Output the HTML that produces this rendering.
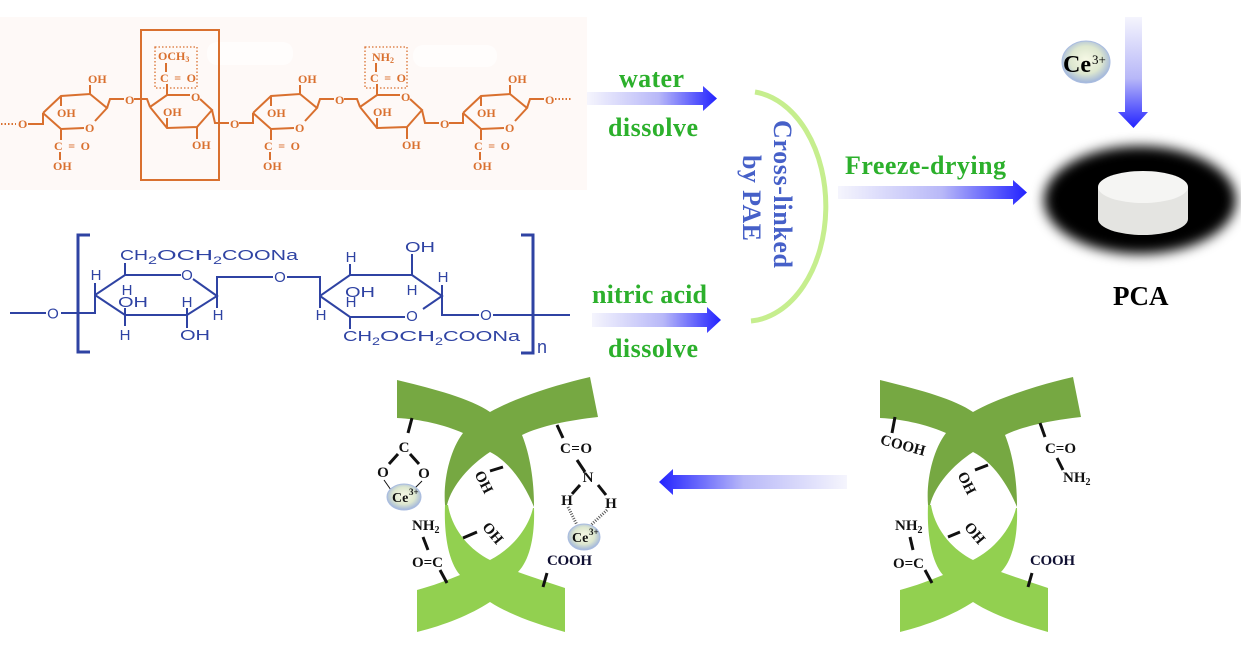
<!DOCTYPE html>
<html><head><meta charset="utf-8"><style>
html,body{margin:0;padding:0;background:#fff;}
svg{display:block;}
.o{font:bold 12px "Liberation Serif",serif;fill:#d9702f;}
.b{font:15px "Liberation Sans",sans-serif;fill:#2f43a3;}
.g{font:bold 26px "Liberation Serif",serif;fill:#2cb02c;}
.k{font:bold 15px "Liberation Serif",serif;fill:#111;}
</style></head><body>
<svg width="1241" height="645" viewBox="0 0 1241 645" xmlns="http://www.w3.org/2000/svg">
<defs>
<linearGradient id="ga1" gradientUnits="userSpaceOnUse" x1="587" y1="0" x2="717" y2="0"><stop offset="0" stop-color="#f5f5fd"/><stop offset="0.55" stop-color="#b8b8f8"/><stop offset="1" stop-color="#2222ff"/></linearGradient>
<linearGradient id="ga2" gradientUnits="userSpaceOnUse" x1="592" y1="0" x2="721" y2="0"><stop offset="0" stop-color="#f5f5fd"/><stop offset="0.55" stop-color="#b8b8f8"/><stop offset="1" stop-color="#2222ff"/></linearGradient>
<linearGradient id="ga3" gradientUnits="userSpaceOnUse" x1="838" y1="0" x2="1027" y2="0"><stop offset="0" stop-color="#f5f5fd"/><stop offset="0.55" stop-color="#b8b8f8"/><stop offset="1" stop-color="#2222ff"/></linearGradient>
<linearGradient id="ga4" gradientUnits="userSpaceOnUse" x1="0" y1="17" x2="0" y2="128"><stop offset="0" stop-color="#f5f5fd"/><stop offset="0.55" stop-color="#b8b8f8"/><stop offset="1" stop-color="#2222ff"/></linearGradient>
<linearGradient id="ga5" gradientUnits="userSpaceOnUse" x1="847" y1="0" x2="659" y2="0"><stop offset="0" stop-color="#f5f5fd"/><stop offset="0.55" stop-color="#b8b8f8"/><stop offset="1" stop-color="#2222ff"/></linearGradient>
<radialGradient id="ce" cx="0.5" cy="0.45" r="0.55"><stop offset="0" stop-color="#f7f9e6"/><stop offset="0.6" stop-color="#dde7cf"/><stop offset="1" stop-color="#9fb4dc"/></radialGradient>
<filter id="blur" x="-30%" y="-40%" width="160%" height="180%"><feGaussianBlur stdDeviation="6"/></filter>
</defs>

<!-- Orange structure -->
<rect x="0" y="17" width="587" height="173" fill="#fef9f7"/>
<rect x="207" y="42" width="86" height="23" rx="10" fill="#fffdfc"/>
<rect x="413" y="45" width="84" height="22" rx="10" fill="#fffdfc"/>
<g stroke="#d9702f" stroke-width="2" fill="none">
 <rect x="141" y="30" width="78" height="150"/>
 <rect x="155" y="47" width="42" height="41" stroke-width="1.3" stroke-dasharray="1.5 2"/>
 <rect x="365" y="47" width="42" height="41" stroke-width="1.3" stroke-dasharray="1.5 2"/>
 <path d="M1,124 L16,124 M555,99 L572,99" stroke-dasharray="1.5 2"/>
 <path d="M43,113 L43,124 L28,124 M134,99 L147,99 L150,107 M239,123 L253,123 L253,113 M344,99 L357,99 L360,107 M449,123 L463,123 L463,113"/>
 <g><path d="M43,113 L61,96 L90,94 L107,108 L95,121 M84,128 L61,129 L43,113 M90,94 L90,85 M61,96 L61,106 M61,129 L61,140 M60,152 L60,160 M107,108 L110,99 L124,99"/></g>
 <g transform="translate(210,0)"><path d="M43,113 L61,96 L90,94 L107,108 L95,121 M84,128 L61,129 L43,113 M90,94 L90,85 M61,96 L61,106 M61,129 L61,140 M60,152 L60,160 M107,108 L110,99 L124,99"/></g>
 <g transform="translate(420,0)"><path d="M43,113 L61,96 L90,94 L107,108 L95,121 M84,128 L61,129 L43,113 M90,94 L90,85 M61,96 L61,106 M61,129 L61,140 M60,152 L60,160 M107,108 L110,99 L124,99"/></g>
 <path d="M150,107 L167,95 L190,95 M200,99 L212,110 L197,127 L167,128 L150,107 M167,95 L167,84 M166,63 L166,72 M167,128 L167,118 M197,127 L197,139 M212,110 L215,123 L229,123"/>
 <g transform="translate(210,0)"><path d="M150,107 L167,95 L190,95 M200,99 L212,110 L197,127 L167,128 L150,107 M167,95 L167,84 M166,63 L166,72 M167,128 L167,118 M197,127 L197,139 M212,110 L215,123 L229,123"/></g>
</g>
<g class="o">
 <text x="18" y="128">O</text>
 <g><text x="88" y="83">OH</text><text x="57" y="117">OH</text><text x="85" y="132">O</text><text x="54" y="150" textLength="36">C=O</text><text x="53" y="170">OH</text><text x="125" y="104">O</text></g>
 <g transform="translate(210,0)"><text x="88" y="83">OH</text><text x="57" y="117">OH</text><text x="85" y="132">O</text><text x="54" y="150" textLength="36">C=O</text><text x="53" y="170">OH</text><text x="125" y="104">O</text></g>
 <g transform="translate(420,0)"><text x="88" y="83">OH</text><text x="57" y="117">OH</text><text x="85" y="132">O</text><text x="54" y="150" textLength="36">C=O</text><text x="53" y="170">OH</text><text x="125" y="104">O</text></g>
 <g><text x="191" y="101">O</text><text x="160" y="82" textLength="36">C=O</text><text x="158" y="60">OCH<tspan font-size="8" dy="2">3</tspan></text><text x="163" y="116">OH</text><text x="192" y="149">OH</text><text x="230" y="128">O</text></g>
 <g transform="translate(210,0)"><text x="191" y="101">O</text><text x="160" y="82" textLength="36">C=O</text><text x="162" y="61">NH<tspan font-size="8" dy="2">2</tspan></text><text x="163" y="116">OH</text><text x="192" y="149">OH</text><text x="230" y="128">O</text></g>
</g>

<!-- Blue CMC structure -->
<g stroke="#2f43a3" stroke-width="2" fill="none">
 <path d="M10,313 L46,313 M61,313 L95,313 L95,295 L125,275 L181,275 M193,279 L217,296 L187,315 L125,315 L95,295 M217,296 L217,277 L273,277 M287,277 L320,277 L320,296 L350,275 L412,275 L442,296 L423,309 M405,317 L350,317 L320,296 M442,296 L442,315 L479,315 M493,315 L570,315"/>
 <path d="M125,275 L125,263 M95,295 L95,283 M125,315 L125,326 M125,315 L125,308 M187,315 L187,328 M187,315 L187,308 M217,296 L217,308 M350,275 L350,264 M412,275 L412,254 M350,317 L350,329 M320,296 L320,308 M442,296 L442,285"/>
 <path d="M90,235 L78,235 L78,352 L90,352 M521,235 L533,235 L533,353 L521,353" stroke-width="3"/>
</g>
<g class="b">
 <text x="120" y="260" textLength="28" lengthAdjust="spacingAndGlyphs">CH</text><text x="148" y="264" font-size="11" textLength="9" lengthAdjust="spacingAndGlyphs">2</text><text x="157" y="260" textLength="56" lengthAdjust="spacingAndGlyphs">OCH</text><text x="213" y="264" font-size="11" textLength="9" lengthAdjust="spacingAndGlyphs">2</text><text x="222" y="260" textLength="76" lengthAdjust="spacingAndGlyphs">COONa</text>
 <text x="343" y="341" textLength="29" lengthAdjust="spacingAndGlyphs">CH</text><text x="372" y="345" font-size="11" textLength="8" lengthAdjust="spacingAndGlyphs">2</text><text x="380" y="341" textLength="55" lengthAdjust="spacingAndGlyphs">OCH</text><text x="435" y="345" font-size="11" textLength="8" lengthAdjust="spacingAndGlyphs">2</text><text x="443" y="341" textLength="77" lengthAdjust="spacingAndGlyphs">COONa</text>
 <g text-anchor="middle">
  <text x="53" y="318.5">O</text><text x="187" y="280">O</text><text x="280" y="282">O</text><text x="412" y="321">O</text><text x="486" y="320">O</text>
  <text x="96" y="280">H</text><text x="127" y="295">H</text><text x="125" y="340">H</text><text x="187" y="307">H</text><text x="218" y="320">H</text>
  <text x="321" y="320">H</text><text x="351" y="262">H</text><text x="412" y="295">H</text><text x="443" y="282">H</text><text x="351" y="307">H</text>
 </g>
 <text x="118" y="307" textLength="30" lengthAdjust="spacingAndGlyphs">OH</text>
 <text x="180" y="340" textLength="30" lengthAdjust="spacingAndGlyphs">OH</text>
 <text x="345" y="297" textLength="30" lengthAdjust="spacingAndGlyphs">OH</text>
 <text x="405" y="252" textLength="30" lengthAdjust="spacingAndGlyphs">OH</text>
 <text x="537" y="353" font-size="18">n</text>
</g>

<!-- Arrows -->
<path d="M587,92 L703,92 L703,86 L717,98.5 L703,111 L703,105 L587,105 Z" fill="url(#ga1)"/>
<path d="M592,313 L707,313 L707,307 L721,320 L707,333 L707,327 L592,327 Z" fill="url(#ga2)"/>
<path d="M838,186 L1013,186 L1013,180 L1027,192.5 L1013,205 L1013,199 L838,199 Z" fill="url(#ga3)"/>
<path d="M1125,17 L1142,17 L1142,112 L1148,112 L1133.5,128 L1118,112 L1125,112 Z" fill="url(#ga4)"/>
<path d="M847,475 L673,475 L673,469 L659,482 L673,495 L673,489 L847,489 Z" fill="url(#ga5)"/>

<!-- Labels -->
<text class="g" x="619" y="87" textLength="65">water</text>
<text class="g" x="608" y="136" textLength="90">dissolve</text>
<text class="g" x="592" y="303" textLength="115">nitric acid</text>
<text class="g" x="608" y="357" textLength="90">dissolve</text>
<text class="g" x="845" y="174" textLength="161">Freeze-drying</text>

<path d="M755,92 A80,115 0 0 1 751,321" fill="none" stroke="#c6ee8e" stroke-width="5"/>
<text transform="translate(774,120) rotate(90)" style="font:bold 26px 'Liberation Serif',serif;fill:#4660c8" textLength="148">Cross-linked</text>
<text transform="translate(743,155) rotate(90)" style="font:bold 26px 'Liberation Serif',serif;fill:#4660c8" textLength="86">by PAE</text>

<!-- Ce3+ top -->
<ellipse cx="1086" cy="62" rx="24" ry="21" fill="url(#ce)" stroke="#a9bce0" stroke-width="1"/>
<text x="1063" y="72" style="font:bold 24px 'Liberation Serif',serif;fill:#000">Ce</text>
<text x="1092" y="64" style="font:13px 'Liberation Serif',serif;fill:#000">3+</text>

<!-- PCA photo -->
<ellipse cx="1140" cy="200" rx="96" ry="54" fill="#000" filter="url(#blur)"/>
<path d="M1098,187 L1098,219 A45,16 0 0 0 1188,219 L1188,187 Z" fill="#e4e4e1"/>
<ellipse cx="1143" cy="187" rx="45" ry="16" fill="#f5f5f3"/>
<text x="1113" y="305" style="font:bold 27px 'Liberation Serif',serif;fill:#000">PCA</text>

<!-- Helix left -->
<g>
<path d="M397,380 C430,388 470,398 490,412 C515,398 555,385 590,377 L598,417 C570,420 540,426 522,435 C530,455 534,480 534,507 C525,485 510,462 490,452 C470,465 452,485 447,505 L445,505 C443,480 450,450 463,433 C445,425 420,419 397,418 Z" fill="#76a842"/>
<path d="M417,590 C432,586 448,580 460,575 C447,560 444,530 445,505 L448,505 C452,530 470,550 490,560 C510,550 528,530 533,508 L534,508 C535,535 530,560 518,572 C535,578 550,583 565,588 L565,632 C540,625 510,615 490,602 C470,615 445,625 417,632 Z" fill="#92d050"/>
</g>
<g transform="translate(483,0)">
<path d="M397,380 C430,388 470,398 490,412 C515,398 555,385 590,377 L598,417 C570,420 540,426 522,435 C530,455 534,480 534,507 C525,485 510,462 490,452 C470,465 452,485 447,505 L445,505 C443,480 450,450 463,433 C445,425 420,419 397,418 Z" fill="#76a842"/>
<path d="M417,590 C432,586 448,580 460,575 C447,560 444,530 445,505 L448,505 C452,530 470,550 490,560 C510,550 528,530 533,508 L534,508 C535,535 530,560 518,572 C535,578 550,583 565,588 L565,632 C540,625 510,615 490,602 C470,615 445,625 417,632 Z" fill="#92d050"/>
</g>

<!-- Left helix labels -->
<g stroke="#111" stroke-width="3" fill="none">
 <path d="M412,418 L408,433 M398,454 L389,464 M410,454 L419,464 M423,537 L428,550 M440,570 L447,583 M503,467 L490,471 M463,538 L477,532 M557,425 L563,438 M577,460 L585,472 M580,485 L572,494 M598,485 L606,495 M547,573 L543,587"/>
 <path d="M384,480 L391,490 M422,481 L414,489" stroke-width="1"/>
 <path d="M568,507 L577,525 M607,510 L591,525" stroke="#555" stroke-dasharray="1 1.5"/>
</g>
<ellipse cx="404" cy="497" rx="17" ry="13" fill="url(#ce)" stroke="#a9bce0"/>
<ellipse cx="584" cy="537" rx="16" ry="13" fill="url(#ce)" stroke="#a9bce0"/>
<g class="k">
 <g text-anchor="middle">
  <text x="404" y="452">C</text><text x="383" y="477">O</text><text x="424" y="478">O</text>
  <text x="588" y="482">N</text><text x="567" y="505">H</text><text x="611" y="508">H</text>
 </g>
 <text x="392" y="502" font-size="14">Ce</text><text x="409" y="495" font-size="9">3+</text>
 <text x="572" y="542" font-size="14">Ce</text><text x="589" y="535" font-size="9">3+</text>
 <text x="412" y="530">NH<tspan font-size="10" dy="3">2</tspan></text>
 <text x="412" y="567" textLength="31">O=C</text>
 <text x="560" y="453" textLength="32">C=O</text>
 <text x="547" y="565" textLength="45" style="fill:#111133">COOH</text>
 <text x="484" y="487" text-anchor="middle" transform="rotate(63,484,482)">OH</text>
 <text x="493" y="538" text-anchor="middle" transform="rotate(50,493,533)">OH</text>
</g>

<!-- Right helix labels -->
<g stroke="#111" stroke-width="3" fill="none">
 <path d="M895,417 L892,433 M1040,423 L1045,437 M1057,458 L1063,470 M988,465 L975,470 M948,537 L960,532 M910,537 L913,550 M925,570 L932,583 M1032,573 L1028,587"/>
</g>
<g class="k">
 <text x="903" y="450" text-anchor="middle" textLength="46" transform="rotate(15,903,445)">COOH</text>
 <text x="1045" y="453" textLength="31">C=O</text>
 <text x="1063" y="482">NH<tspan font-size="10" dy="3">2</tspan></text>
 <text x="967" y="488" text-anchor="middle" transform="rotate(63,967,483)">OH</text>
 <text x="975" y="538" text-anchor="middle" transform="rotate(50,975,533)">OH</text>
 <text x="895" y="530">NH<tspan font-size="10" dy="3">2</tspan></text>
 <text x="893" y="568" textLength="31">O=C</text>
 <text x="1030" y="565" textLength="45" style="fill:#111133">COOH</text>
</g>
</svg>
</body></html>
